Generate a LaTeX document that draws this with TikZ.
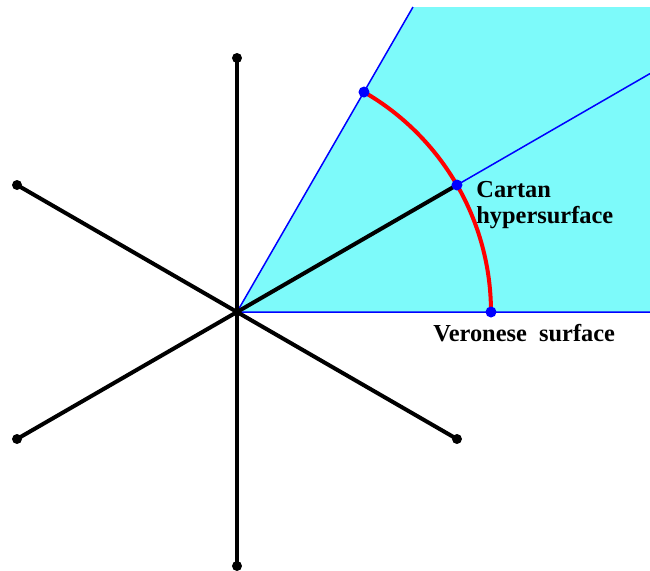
\documentclass[tikz,border=0pt]{standalone}
\usepackage{fontspec}
\setmainfont{Liberation Serif}
\usetikzlibrary{positioning}
\definecolor{conefill}{RGB}{125,250,250}

\begin{document}
\begin{tikzpicture}[x=0.5pt,y=0.5pt,
    ray/.style={line width=2pt},
    bound/.style={blue,line width=0.75pt},
    lbl/.style={anchor=base west,inner sep=0pt,font=\fontsize{12.2}{13}\selectfont\bfseries}]
  \useasboundingbox (-237,-258) rectangle (413,312);
  \coordinate (o) at (0,0);
  \coordinate (top) at (176,305);
  \coordinate (corner) at (413,305);
  \coordinate (right) at (413,0);
  \coordinate (edge) at (413,238.4);
  \foreach \a in {0,30,60,90,150,210,270,330}
    \coordinate (p\a) at (\a:254);
  \fill[conefill] (o)--(top)--(corner)--(right)--cycle;
  \draw[bound] (o)--(top) (o)--(edge) (o)--(right);
  \foreach \a in {30,90,150,210,270,330}
    \draw[ray] (o)--(p\a);
  \draw[red,line width=2pt] (p0) arc[start angle=0,end angle=60,radius=254];
  \foreach \a in {90,150,210,270,330}
    \fill (p\a) circle (5);
  \foreach \a in {0,30,60}
    \fill[blue] (p\a) circle (5.5);
  \node[lbl] (cartan) at (239,115) {Cartan};
  \node[lbl] (hyper) at (239,89) {hypersurface};
  \node[lbl] (veronese) at (196,-29) {Veronese\ \ surface};
\end{tikzpicture}
\end{document}
